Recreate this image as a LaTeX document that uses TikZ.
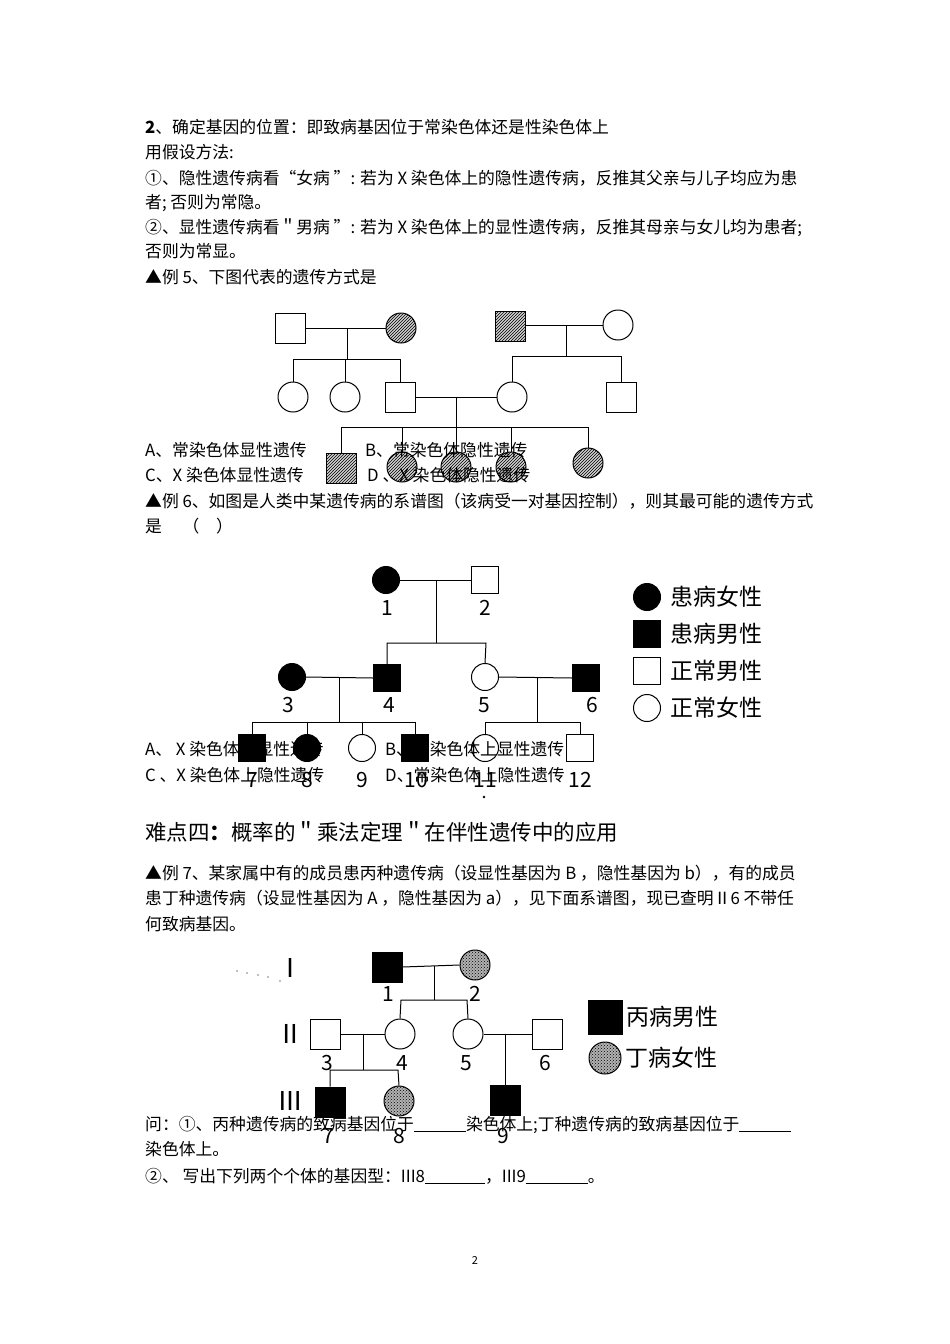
\documentclass[tikz,border=0pt]{standalone}
\usepackage{fontspec}
\setmainfont{Noto Sans CJK SC}
\usetikzlibrary{patterns}
\begin{document}
\begin{tikzpicture}[x=1pt,y=-1pt,
  txt/.style={anchor=base west,inner sep=0,font=\fontsize{16.8}{16.8}\selectfont},
  lab/.style={anchor=base,inner sep=0,font=\fontsize{21}{21}\selectfont},
  sq/.style={draw,line width=1pt,rectangle,minimum size=#1,inner sep=0},
  sq/.default=30,
  ci/.style={draw,line width=1pt,circle,minimum size=#1,inner sep=0},
  ci/.default=30,
  hat/.style={fill=gray!35,postaction={pattern=north east lines}},
  blk/.style={fill=black},
  dots/.style={fill=gray!60,postaction={pattern=crosshatch dots}},
  ln/.style={line width=1pt}]
\useasboundingbox (0,0) rectangle (950,1344);
\fill[white] (0,0) rectangle (950,1344);
% ---- text top
\node[txt] (t1) at (145,133) {\textbf{2}、确定基因的位置：即致病基因位于常染色体还是性染色体上};
\node[txt] (t2) at (145,158) {用假设方法:};
\node[txt] (t3) at (145,184) {①、隐性遗传病看“女病 ”: 若为\ X\ 染色体上的隐性遗传病，反推其父亲与儿子均应为患};
\node[txt] (t4) at (145,208) {者; 否则为常隐。};
\node[txt] (t5) at (145,233) {②、显性遗传病看＂男病 ”: 若为\ X\ 染色体上的显性遗传病，反推其母亲与女儿均为患者;};
\node[txt] (t6) at (145,257) {否则为常显。};
\node[txt] (t7) at (145,283) {▲例 5、下图代表的遗传方式是};
% ---- pedigree 1
\node[sq] (a1) at (290,328) {};
\node[ci,hat] (a2) at (401,328) {};
\node[sq,hat] (a3) at (510,326) {};
\node[ci] (a4) at (618,325) {};
\node[ci] (a5) at (293,397) {};
\node[ci] (a6) at (345,397) {};
\node[sq] (a7) at (400,397) {};
\node[ci] (a8) at (512,397) {};
\node[sq] (a9) at (621,397) {};
\node[sq,hat] (b1) at (341,468) {};
\node[ci,hat] (b2) at (402,467) {};
\node[ci,hat] (b3) at (456,467) {};
\node[ci,hat] (b4) at (511,467) {};
\node[ci,hat] (b5) at (588,463) {};
\draw[ln] (a1.east) -- (a2.west);
\draw[ln] (a3.east|-a4) -- (a4.west);
\draw[ln] (a7.east) -- (a8.west);
\coordinate (m1) at (347,328); \coordinate (m2) at (566,325); \coordinate (m3) at (456,397);
\draw[ln] (m1) -- (347,359); \draw[ln] (a5.north) -- (293,359) -- (400,359) -- (a7.north) (a6.north) -- (345,359);
\draw[ln] (m2) -- (566,356); \draw[ln] (a8.north) -- (512,356) -- (621,356) -- (a9.north);
\draw[ln] (m3) -- (b3.north); \draw[ln] (b1.north) -- (341,427) -- (588,427) -- (b5.north) (b2.north) -- (402,427) (b4.north) -- (511,427);
\node[txt] at (145,456) {A、常染色体显性遗传};
\node[txt] at (365,456) {B、常染色体隐性遗传};
\node[txt] at (145,481) {C、X\ 染色体显性遗传};
\node[txt] at (367,481) {D\ 、X\ 染色体隐性遗传};
\node[txt] at (145,507) {▲例\ 6、如图是人类中某遗传病的系谱图（该病受一对基因控制），则其最可能的遗传方式};
\node[txt] at (145,532) {是\quad\ （\quad ）};
% ---- pedigree 2
\begin{scope}[sq/.default=27,ci/.default=27]
\node[ci,blk] (p1) at (386,580) {}; \node[sq] (p2) at (485,580) {};
\node[ci,blk] (p3) at (292,677) {}; \node[sq,blk] (p4) at (387,678) {};
\node[ci] (p5) at (485,677) {}; \node[sq,blk] (p6) at (586,678) {};
\node[sq,blk] (p7) at (252,748) {}; \node[ci,blk] (p8) at (307,748) {};
\node[ci] (p9) at (362,748) {}; \node[sq,blk] (p10) at (415,748) {};
\node[ci] (p11) at (485,748) {}; \node[sq] (p12) at (580,748) {};
\draw[ln] (p1.east) -- (p2.west); \draw[ln] (p3.east) -- (p4.west); \draw[ln] (p5.east) -- (p6.west);
\draw[ln] (436,580) -- (436,643); \draw[ln] (p4.north) -- (387,643) -- (486,643) -- (p5.north);
\draw[ln] (339,677) -- (339,722); \draw[ln] (p7.north) -- (252,722) -- (415,722) -- (p10.north) (p8.north) -- (307,722) (p9.north) -- (362,722);
\draw[ln] (537,678) -- (537,722); \draw[ln] (p11.north) -- (485,722) -- (580,722) -- (p12.north);
\foreach \n/\x/\y in {1/387/615,2/485/615,3/288/712,4/389/712,5/484/712,6/592/712,7/252/787,8/307/787,9/362/787,10/416/787,11/485/787,12/580/787}
  \node[lab] (l\n) at (\x,\y) {\n};
\fill (484,797) circle (1.3);
\node[ci,blk] (g1) at (647,597) {}; \node[sq,blk] (g2) at (647,634) {};
\node[sq] (g3) at (647,671) {}; \node[ci] (g4) at (647,708) {};
\foreach \i/\t in {1/患病女性,2/患病男性,3/正常男性,4/正常女性}
  \node[anchor=west,inner sep=0,font=\fontsize{23}{23}\selectfont] at ([xshift=9pt]g\i.east) {\t};
\end{scope}
\node[txt] at (145,755) {A、\ X\ 染色体上显性遗传};
\node[txt] at (385,755) {B、常染色体上显性遗传};
\node[txt] at (145,781) {C\ 、X\ 染色体上隐性遗传};
\node[txt] at (385,781) {D、常染色体上隐性遗传};
\node[anchor=base west,inner sep=0,font=\fontsize{21.5}{21.5}\selectfont] at (145,840) {难点四\textbf{：}概率的＂乘法定理＂在伴性遗传中的应用};
\node[txt] at (145,879) {▲例 7、某家属中有的成员患丙种遗传病（设显性基因为\ B\ ，隐性基因为\ b），有的成员};
\node[txt] at (145,904) {患丁种遗传病（设显性基因为\ A\ ，隐性基因为\ a），见下面系谱图，现已查明Ⅱ6\ 不带任};
\node[txt] at (145,930) {何致病基因。};
% ---- pedigree 3
\begin{scope}[sq/.default=30,ci/.default=30]
\node[sq,blk] (q1) at (387,967) {}; \node[ci,dots] (q2) at (475,965) {};
\node[sq] (q3) at (325,1034) {}; \node[ci] (q4) at (400,1034) {};
\node[ci] (q5) at (468,1034) {}; \node[sq] (q6) at (547,1034) {};
\node[sq,blk] (q7) at (330,1102) {}; \node[ci,dots] (q8) at (399,1101) {};
\node[sq,blk] (q9) at (505,1100) {};
\draw[ln] (q1.east) -- (q2.west); \draw[ln] (q3.east) -- (q4.west); \draw[ln] (q5.east) -- (q6.west);
\draw[ln] (434,966) -- (434,1000); \draw[ln] (q4.north) -- (401,1000) -- (467,1000) -- (q5.north);
\draw[ln] (363,1034) -- (363,1070); \draw[ln] (q7.north) -- (330,1070) -- (398,1070) -- (q8.north);
\draw[ln] (505,1034) -- (q9.north);
\foreach \n/\x/\y in {1/388/1001,2/475/1001,3/327/1070,4/402/1070,5/466/1070,6/545/1070,7/328/1143,8/399/1143,9/503/1143}
  \node[lab] (r\n) at (\x,\y) {\n};
\node[lab,font=\fontsize{26}{26}\selectfont] (gen1) at (290,977) {Ⅰ};
\node[lab,font=\fontsize{26}{26}\selectfont] (gen2) at (290,1043) {Ⅱ};
\node[lab,font=\fontsize{26}{26}\selectfont] (gen3) at (290,1110) {Ⅲ};
\foreach \x/\y in {237/971,247/973,258/975,268/977,280/981} \fill[gray] (\x,\y) circle (0.9);
\node[sq=34,blk] (h1) at (605,1017) {}; \node[ci=32,dots] (h2) at (605,1058) {};
\node[anchor=west,inner sep=0,font=\fontsize{23}{23}\selectfont] at ([xshift=4pt]h1.east) {丙病男性};
\node[anchor=west,inner sep=0,font=\fontsize{23}{23}\selectfont] at ([xshift=4pt]h2.east) {丁病女性};
\end{scope}
\node[txt] at (145,1130) {问：①、丙种遗传病的致病基因位于\underline{\hspace{52pt}}染色体上;丁种遗传病的致病基因位于\underline{\hspace{52pt}}};
\node[txt] at (145,1155) {染色体上。};
\node[txt] at (145,1182) {②、\ 写出下列两个个体的基因型：III8\underline{\hspace{60pt}}，III9\underline{\hspace{62pt}}。};
\node[anchor=base,inner sep=0,font=\fontsize{11}{11}\selectfont] at (475,1264) {2};
\end{tikzpicture}
\end{document}
